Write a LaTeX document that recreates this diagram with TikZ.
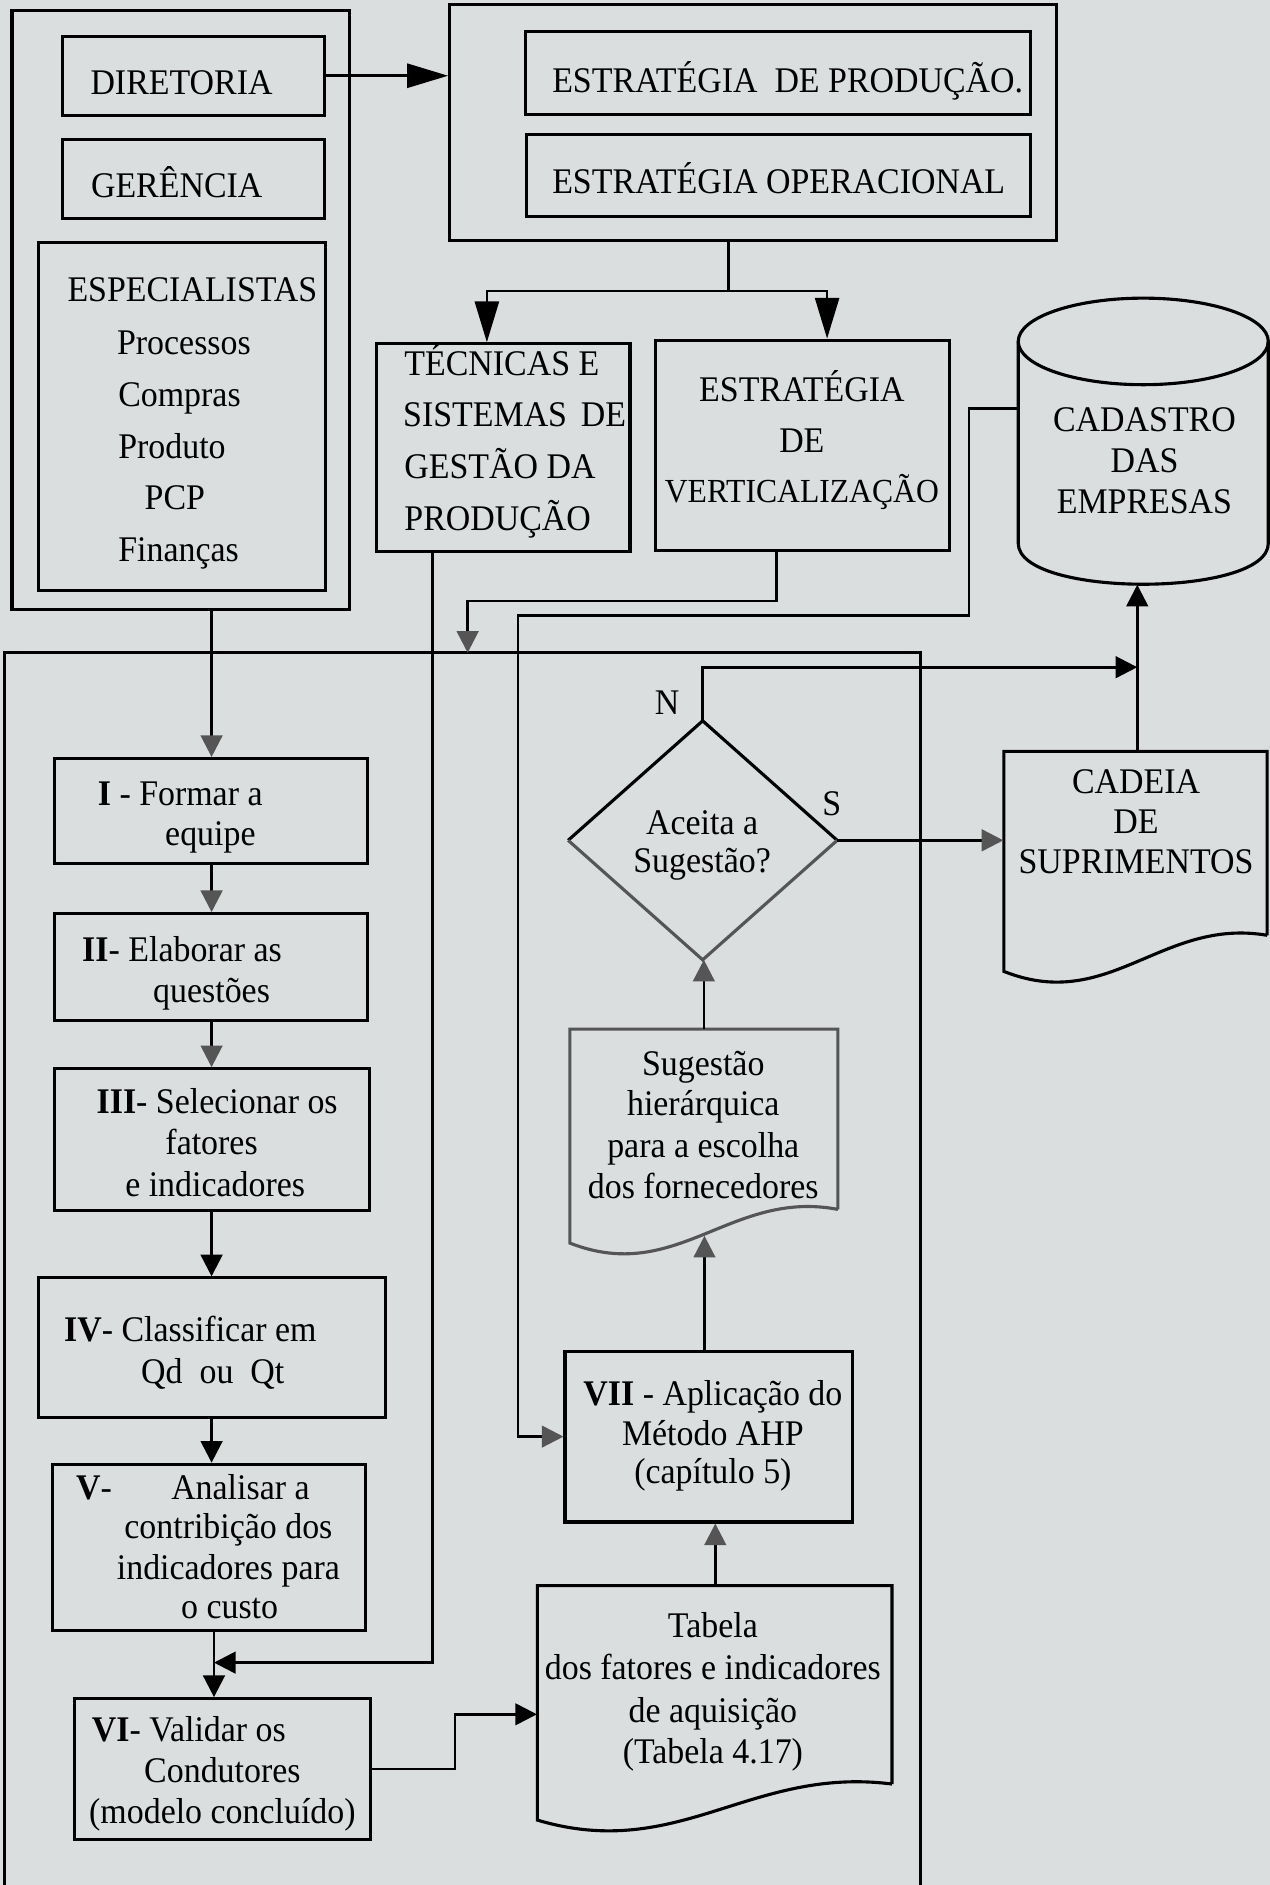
\documentclass[tikz,border=0pt]{standalone}
\usepackage{fontspec}
\setmainfont{Liberation Serif}[FakeStretch=0.94]
\usetikzlibrary{arrows.meta,fit,calc}
\definecolor{bg}{RGB}{218,222,222}
\definecolor{hd}{RGB}{85,85,85}
\begin{document}
\begin{tikzpicture}[x=0.5pt,y=-0.5pt,
  box/.style={draw, line width=1.3pt, inner sep=0pt},
  hid/.style={inner sep=0pt},
  t/.style={inner sep=0pt, anchor=base, font=\fontsize{15}{18}\selectfont},
  tl/.style={t, anchor=base west},
  ln/.style={line width=1.1pt},
  big/.style={ln, -{Triangle[length=17pt,width=10pt]}},
  ar/.style={ln, -{Triangle[length=9pt,width=9pt]}},
  gar/.style={ln, -{Triangle[length=9pt,width=9pt,color=hd,fill=hd]}},
  shp/.style={line width=1.3pt}
]
\fill[bg] (0,0) rectangle (1056,1568);
\useasboundingbox (0,0) rectangle (1056,1568);

% ---------- top-left group
\node[box, fit={(10,9)(291,507)}] (grp) {};
\node[box, fit={(52,30)(270,96)}] (dir) {};
\node[t] (dirT) at (151,79) {DIRETORIA};
\node[box, fit={(52,116)(270,182)}] (ger) {};
\node[t] (gerT) at (147,164) {GERÊNCIA};
\node[box, fit={(32,202)(271,491)}] (esp) {};
\node[t] (espT) at (160,251) {ESPECIALISTAS};
\node[tl] (esp1) at (97,295) {Processos};
\node[tl] (esp2) at (98,338) {Compras};
\node[tl] (esp3) at (98,381) {Produto};
\node[tl] (esp4) at (120,424) {PCP};
\node[tl] (esp5) at (98,467) {Finanças};

% ---------- top-right group
\node[box, fit={(374,4)(879,200)}] (estr) {};
\node[box, fit={(437,26)(857,95)}] (prod) {};
\node[tl] (prodT) at (459,77) {ESTRATÉGIA\ \ DE PRODUÇÃO.};
\node[box, fit={(438,112)(857,180)}] (oper) {};
\node[tl] (operT) at (459,161) {ESTRATÉGIA OPERACIONAL};

\node[box, fit={(313,286)(524,459)}] (tec) {};
\node[tl] (tec1) at (336,312) {TÉCNICAS E};
\node[tl] (tec2) at (335,355) {SISTEMAS\hspace{0.38em}DE};
\node[tl] (tec3) at (336,398) {GESTÃO DA};
\node[tl] (tec4) at (336,441) {PRODUÇÃO};

\node[box, fit={(545,283)(790,458)}] (vert) {};
\node[t] (vert1) at (667,334) {ESTRATÉGIA};
\node[t] (vert2) at (667,376) {DE};
\node[t, font=\fontsize{14}{17}\selectfont] (vert3) at (667,418) {VERTICALIZAÇÃO};

% ---------- cylinder
\node[hid, fit={(847,248)(1055,486)}] (cad) {};
\draw[shp] (951,284) ellipse [x radius=104, y radius=36];
\draw[shp] (847,284) -- (847,452) .. controls (847,497.3) and (1055,497.3) .. (1055,452) -- (1055,284);
\node[t] (cad1) at (952,359) {CADASTRO};
\node[t] (cad2) at (952,393) {DAS};
\node[t] (cad3) at (952,427) {EMPRESAS};
\coordinate (cadL) at (847,340);

% ---------- lower container
\draw[shp] (4,1572) -- (4,543) -- (766,543) -- (766,1572);

% ---------- chain
\node[box, fit={(45,631)(306,718)}] (I) {};
\node[tl] (I1) at (81,670) {\textbf{I} - Formar a};
\node[t] (I2) at (175,703) {equipe};
\node[box, fit={(45,760)(306,849)}] (II) {};
\node[tl] (II1) at (68,800) {\textbf{II}- Elaborar as};
\node[t] (II2) at (176,834) {questões};
\node[box, fit={(45,889)(307,1007)}] (III) {};
\node[tl] (III1) at (80,926) {\textbf{III}- Selecionar os};
\node[t] (III2) at (176,960) {fatores};
\node[t] (III3) at (179,995) {e indicadores};
\node[box, fit={(32,1063)(321,1179)}] (IV) {};
\node[tl] (IV1) at (53,1116) {\textbf{IV}- Classificar em};
\node[t] (IV2) at (177,1151) {Qd\ \ ou\ \ Qt};
\node[box, fit={(44,1218)(304,1356)}] (V) {};
\node[tl] (V0) at (63,1247) {\textbf{V}-};
\node[t] (V1) at (200,1247) {Analisar a};
\node[t] (V2) at (190,1280) {contribição dos};
\node[t] (V3) at (190,1314) {indicadores para};
\node[t] (V4) at (191,1346) {o custo};
\node[box, fit={(62,1413)(308,1530)}] (VI) {};
\node[tl] (VI1) at (76,1449) {\textbf{VI}- Validar os};
\node[t] (VI2) at (185,1483) {Condutores};
\node[t] (VI3) at (185,1517) {(modelo concluído)};

% ---------- diamond
\node[hid, fit={(473,600)(696,798)}] (dia) {};
\draw[shp] (dia.west) -- (dia.north) -- (dia.east);
\draw[shp, hd] (dia.east) -- (dia.south) -- (dia.west);
\node[t] (dia1) at (584,694) {Aceita a};
\node[t] (dia2) at (584,726) {Sugestão?};
\node[t] (lblN) at (555,594) {N};
\node[t] (lblS) at (692,678) {S};

% ---------- CADEIA document
\node[hid, fit={(835,625)(1054,808)}] (cdn) {};
\draw[shp] (1054,778) -- (1054,625) -- (835,625) -- (835,808) .. controls (922.6,843) and (966.4,763) .. (1054,778);
\node[t] (cdn1) at (945,660) {CADEIA};
\node[t] (cdn2) at (945,693) {DE};
\node[t] (cdn3) at (945,727) {SUPRIMENTOS};

% ---------- Sugestao document
\node[hid, fit={(474,856)(697,1034)}] (sug) {};
\draw[shp, hd] (697,1006) -- (697,856) -- (474,856) -- (474,1034) .. controls (563.2,1069) and (607.8,989) .. (697,1006);
\node[t] (sug1) at (585,895) {Sugestão};
\node[t] (sug2) at (585,928) {hierárquica};
\node[t] (sug3) at (585,963) {para a escolha};
\node[t] (sug4) at (585,997) {dos fornecedores};

% ---------- VII
\node[box, fit={(470,1124)(709,1266)}] (vii) {};
\node[t] (vii1) at (593,1169) {\textbf{VII} - Aplicação do};
\node[t] (vii2) at (593,1202) {Método AHP};
\node[t] (vii3) at (593,1234) {(capítulo 5)};

% ---------- Tabela document
\node[hid, fit={(447,1319)(742,1514)}] (tab) {};
\draw[shp] (742,1484) -- (742,1319) -- (447,1319) -- (447,1514) .. controls (565,1549) and (624,1469) .. (742,1484);
\node[t] (tab1) at (593,1362) {Tabela};
\node[t] (tab2) at (593,1397) {dos fatores e indicadores};
\node[t] (tab3) at (593,1433) {de aquisição};
\node[t] (tab4) at (593,1467) {(Tabela 4.17)};

% ---------- coordinates for bends
\coordinate (j) at (606,242);
\coordinate (tx) at (405,0);
\coordinate (vx) at (688,0);
\coordinate (b1) at (806,512);
\coordinate (b2) at (431,1195);
\coordinate (b3) at (646,500);
\coordinate (b4) at (389,543);
\coordinate (b5) at (360,1383);
\coordinate (b6) at (378.5,1426);
\coordinate (cx) at (176,0);
\coordinate (cx2) at (178,0);
\coordinate (up) at (946,555);
\coordinate (sb) at (586,1028);
\coordinate (tb) at (595,0);

% ---------- connectors
\draw[big] (dir.east) -- (dir.east -| estr.west);
\draw[ln] (j |- estr.south) -- (j);
\draw[big] (j) -| (tx |- tec.north);
\draw[big] (j) -| (vx |- vert.north);
\draw[gar] (b3 |- vert.south) -- (b3) -| (b4);
\draw[gar] (cadL) -| (b1) -| (b2) -- (vii.west);
\draw[ar] (b5 |- tec.south) -- (b5) -- (cx2 |- b5);

\draw[gar] (cx |- grp.south) -- (cx |- I.north);
\draw[gar] (cx |- I.south) -- (cx |- II.north);
\draw[gar] (cx |- II.south) -- (cx |- III.north);
\draw[ar] (cx |- III.south) -- (cx |- IV.north);
\draw[ar] (cx |- IV.south) -- (cx |- V.north);
\draw[ar] (cx2 |- V.south) -- (cx2 |- VI.north);
\draw[ar] (VI.east) -| (b6) -- (b6 -| tab.west);

\draw[ar] (dia.north) |- (up);
\draw[gar] (dia.east) -- (dia.east -| cdn.west);
\draw[ar] (up |- cdn.north) -- (up |- cad.south);
\draw[gar] (sug.north) -- (sug.north |- dia.south);
\draw[gar] (sb |- vii.north) -- (sb);
\draw[gar] (tb |- tab.north) -- (tb |- vii.south);
\end{tikzpicture}
\end{document}
